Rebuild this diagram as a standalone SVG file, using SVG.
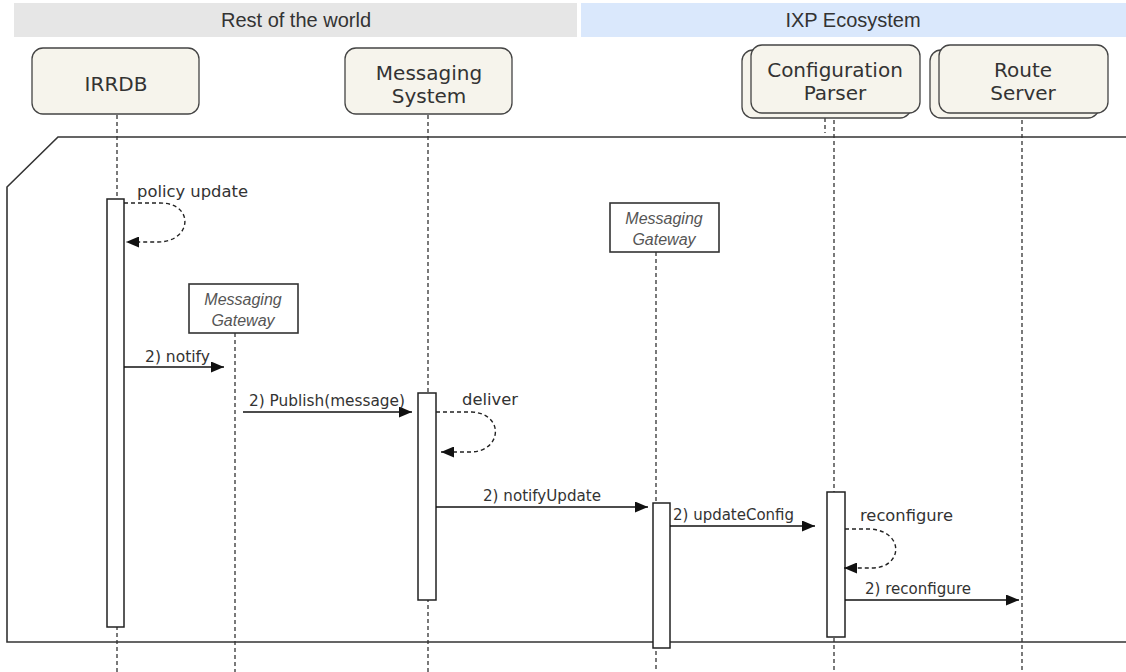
<svg xmlns="http://www.w3.org/2000/svg" width="1126" height="672" viewBox="0 0 1126 672">
  <defs>
    <marker id="arrow" viewBox="0 0 13 11" refX="13" refY="5.5" markerWidth="13" markerHeight="11" markerUnits="userSpaceOnUse" orient="auto">
      <path d="M0,0 L13,5.5 L0,11 Z" fill="#111"/>
    </marker>
    <style>
      .band-text { font-family: "Liberation Sans", Arial, sans-serif; font-size: 20px; fill: #333; text-anchor: middle; }
      .actor { fill: #f6f4ec; stroke: #444; stroke-width: 1.3; }
      .actor-text { font-family: "DejaVu Sans", Verdana, sans-serif; font-size: 20px; fill: #333; text-anchor: middle; }
      .gw { fill: #fff; stroke: #333; stroke-width: 1.6; }
      .gw-text { font-family: "Liberation Sans", Arial, sans-serif; font-style: italic; font-size: 16px; fill: #555; text-anchor: middle; }
      .life { stroke: #333; stroke-width: 1.3; stroke-dasharray: 4 3; fill: none; }
      .act { fill: #fff; stroke: #222; stroke-width: 1.5; }
      .msg { stroke: #111; stroke-width: 1.4; fill: none; marker-end: url(#arrow); }
      .self { stroke: #222; stroke-width: 1.4; stroke-dasharray: 4 3; fill: none; marker-end: url(#arrow); }
      .label { font-family: "DejaVu Sans", Verdana, sans-serif; font-size: 15.5px; fill: #333; }
      .frame { stroke: #333; stroke-width: 1.6; fill: none; }
    </style>
  </defs>

  <!-- swimlane headers -->
  <g id="band-rest">
    <rect x="14" y="3" width="563" height="34" fill="#e6e6e6"/>
    <text class="band-text" x="296" y="27">Rest of the world</text>
  </g>
  <g id="band-ixp">
    <rect x="581" y="3" width="545" height="34" fill="#dae8fc"/>
    <text class="band-text" x="853" y="27">IXP Ecosystem</text>
  </g>

  <!-- interaction frame -->
  <path class="frame" d="M1126,137 L58,137 L7,187 L7,642 L1126,642"/>

  <!-- lifelines -->
  <g id="lifelines">
    <line class="life" x1="117" y1="115" x2="117" y2="672"/>
    <line class="life" x1="428" y1="115" x2="428" y2="672"/>
    <line class="life" x1="235" y1="333" x2="235" y2="672"/>
    <line class="life" x1="656" y1="252" x2="656" y2="672"/>
    <line class="life" x1="825" y1="118" x2="825" y2="133"/>
    <line class="life" x1="834" y1="113" x2="834" y2="672"/>
    <line class="life" x1="1022" y1="113" x2="1022" y2="672"/>
  </g>

  <!-- actors -->
  <g id="irrdb">
    <rect class="actor" x="32" y="48" width="167" height="66" rx="11"/>
    <text class="actor-text" x="116" y="91">IRRDB</text>
  </g>
  <g id="messaging-system">
    <rect class="actor" x="345" y="48" width="167" height="66" rx="11"/>
    <text class="actor-text" x="429" y="80">Messaging</text>
    <text class="actor-text" x="429" y="103">System</text>
  </g>
  <g id="configuration-parser">
    <rect class="actor" x="742" y="50" width="169" height="68" rx="11"/>
    <rect class="actor" x="751" y="45" width="169" height="68" rx="11"/>
    <text class="actor-text" x="835" y="77">Configuration</text>
    <text class="actor-text" x="835" y="100">Parser</text>
  </g>
  <g id="route-server">
    <rect class="actor" x="930" y="50" width="169" height="68" rx="11"/>
    <rect class="actor" x="939" y="45" width="169" height="68" rx="11"/>
    <text class="actor-text" x="1023" y="77">Route</text>
    <text class="actor-text" x="1023" y="100">Server</text>
  </g>
  <g id="gateway-a">
    <rect class="gw" x="189" y="284" width="109" height="49"/>
    <text class="gw-text" x="243" y="305">Messaging</text>
    <text class="gw-text" x="243" y="326">Gateway</text>
  </g>
  <g id="gateway-b">
    <rect class="gw" x="610" y="203" width="109" height="49"/>
    <text class="gw-text" x="664" y="224">Messaging</text>
    <text class="gw-text" x="664" y="245">Gateway</text>
  </g>

  <!-- activation bars -->
  <g id="activations">
    <rect class="act" x="107" y="199" width="17" height="428"/>
    <rect class="act" x="418" y="393" width="18" height="207"/>
    <rect class="act" x="653" y="503" width="17" height="145"/>
    <rect class="act" x="827" y="492" width="18" height="145"/>
  </g>

  <!-- messages -->
  <g id="connectors">
    <path class="self" d="M124,203 L160,203 C195,203 192,242 158,242 L126,242"/>
    <path class="msg" d="M124,367 L224,367"/>
    <path class="msg" d="M243,412 L412,412"/>
    <path class="self" d="M436,412 L472,412 C505,414 502,452 470,452 L441,452"/>
    <path class="msg" d="M436,507 L648,507"/>
    <path class="msg" d="M670,526 L815,526"/>
    <path class="self" d="M845,529 L870,529 C905,531 903,568 872,568 L844,568"/>
    <path class="msg" d="M845,600 L1019,600"/>
  </g>

  <!-- message labels -->
  <g id="labels">
    <text class="label" x="137" y="197" textLength="111" lengthAdjust="spacingAndGlyphs">policy update</text>
    <text class="label" x="145" y="362" textLength="65" lengthAdjust="spacingAndGlyphs">2) notify</text>
    <text class="label" x="249" y="406" textLength="156" lengthAdjust="spacingAndGlyphs">2) Publish(message)</text>
    <text class="label" x="462" y="405" textLength="56" lengthAdjust="spacingAndGlyphs">deliver</text>
    <text class="label" x="483" y="501" textLength="118" lengthAdjust="spacingAndGlyphs">2) notifyUpdate</text>
    <text class="label" x="673" y="520" textLength="121" lengthAdjust="spacingAndGlyphs">2) updateConfig</text>
    <text class="label" x="860" y="521" textLength="93" lengthAdjust="spacingAndGlyphs">reconfigure</text>
    <text class="label" x="865" y="594" textLength="106" lengthAdjust="spacingAndGlyphs">2) reconfigure</text>
  </g>
</svg>
